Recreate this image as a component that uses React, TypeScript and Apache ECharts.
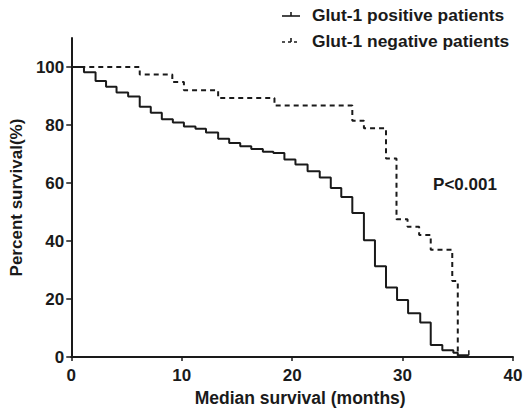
import React, { useEffect, useRef } from "react";
import * as echarts from "echarts";

const posMonths = [0, 1.15, 2.2, 3.15, 4.1, 5.15, 6.2, 7.2, 8.2, 9.2, 10.2, 11.25, 12.2, 13.3, 14.3, 15.3, 16.3, 17.35, 18.3, 19.3, 20.3, 21.4, 22.5, 23.5, 24.45, 25.45, 26.5, 27.5, 28.5, 29.5, 30.5, 31.6, 32.55, 33.6, 34.6, 35.0, 36.0];
const posSurvival = [100, 98.2, 95.2, 93.2, 91.2, 89.8, 86.3, 84.2, 82.0, 80.9, 79.5, 78.7, 77.4, 75.3, 73.8, 72.7, 71.7, 70.8, 70.4, 68.1, 66.4, 64.1, 61.9, 58.3, 55.2, 49.7, 40.3, 31.3, 24.0, 19.7, 15.1, 11.9, 4.2, 2.4, 1.5, 0.6, 0.6];

const negMonths = [0, 6.2, 9.15, 10.2, 13.3, 18.4, 25.45, 26.5, 28.5, 29.45, 30.45, 31.5, 32.55, 34.5, 35.0];
const negSurvival = [100, 97.4, 94.8, 92.0, 89.3, 86.7, 81.5, 78.9, 68.5, 47.5, 44.9, 42.1, 37.0, 26.2, 0];

const xTicks = [0, 10, 20, 30, 40];
const yTicks = [0, 20, 40, 60, 80, 100];

const seriesNames = ["Glut-1 positive patients", "Glut-1 negative patients"];
const pValueText = "P<0.001";

const FONT = "Liberation Sans, Arial, sans-serif";
const INK = "#1a1a1a";

export default function App() {
  const ref = useRef<HTMLDivElement>(null);
  useEffect(() => {
    if (!ref.current) return;
    const chart = echarts.init(ref.current, null, { renderer: "svg" });
    const posData = posMonths.map((m, i) => {
      if (i === posMonths.length - 1) {
        return {
          value: [m, posSurvival[i]],
          symbol: "rect",
          symbolSize: [1.5, 5],
          symbolOffset: [0, -2.5],
          itemStyle: { color: INK },
        };
      }
      return { value: [m, posSurvival[i]], symbol: "none" };
    });
    const negData = negMonths.map((m, i) => [m, negSurvival[i]]);
    const legendGraphics: any[] = [];
    seriesNames.forEach((name, i) => {
      const y = 16 + i * 26;
      legendGraphics.push({
        type: "line",
        shape: { x1: 282, y1: y, x2: 300, y2: y },
        style: { stroke: INK, lineWidth: 1.6, lineDash: i === 1 ? [3, 3] : undefined },
      });
      legendGraphics.push({
        type: "line",
        shape: { x1: 291, y1: y, x2: 291, y2: y - 4 },
        style: { stroke: INK, lineWidth: 1.6 },
      });
      legendGraphics.push({
        type: "text",
        x: 312,
        y: y - 1,
        style: {
          text: name,
          font: `bold 17.4px ${FONT}`,
          fill: INK,
          textVerticalAlign: "middle",
          textAlign: "left",
        },
      });
    });
    legendGraphics.push({
      type: "text",
      x: 465,
      y: 184,
      style: {
        text: pValueText,
        font: `bold 17px ${FONT}`,
        fill: INK,
        textAlign: "center",
        textVerticalAlign: "middle",
      },
    });
    chart.setOption({
      animation: false,
      backgroundColor: "#ffffff",
      grid: { left: 68, right: 17, top: 38, bottom: 51, containLabel: false },
      xAxis: {
        type: "value",
        min: 0,
        max: 40,
        interval: 10,
        name: "Median survival (months)",
        nameLocation: "middle",
        nameGap: 31,
        nameTextStyle: { fontFamily: FONT, fontWeight: "bold", fontSize: 17.5, color: INK, padding: [0, 0, 0, 16] },
        axisLine: { show: true, lineStyle: { color: INK, width: 2 } },
        axisTick: { show: true, length: 4, lineStyle: { color: INK, width: 1.5 }, customValues: xTicks },
        axisLabel: { fontFamily: FONT, fontWeight: "bold", fontSize: 17, color: INK, margin: 10, customValues: xTicks },
        splitLine: { show: false },
      },
      yAxis: {
        type: "value",
        min: 0,
        max: 110,
        name: "Percent survival(%)",
        nameLocation: "middle",
        nameGap: 43,
        nameTextStyle: { fontFamily: FONT, fontWeight: "bold", fontSize: 17, color: INK },
        axisLine: { show: true, lineStyle: { color: INK, width: 2 } },
        axisTick: { show: true, length: 5, lineStyle: { color: INK, width: 1.5 }, customValues: yTicks },
        axisLabel: { fontFamily: FONT, fontWeight: "bold", fontSize: 17, color: INK, margin: 7, customValues: yTicks },
        splitLine: { show: false },
      },
      series: [
        {
          name: seriesNames[0],
          type: "line",
          step: "end",
          data: posData,
          symbol: "none",
          showSymbol: true,
          lineStyle: { color: INK, width: 2 },
          itemStyle: { color: INK },
          z: 3,
        },
        {
          name: seriesNames[1],
          type: "line",
          step: "end",
          data: negData,
          symbol: "none",
          lineStyle: { color: INK, width: 2, type: [5, 4] },
          itemStyle: { color: INK },
          z: 2,
        },
      ],
      graphic: legendGraphics,
    });
    return () => chart.dispose();
  }, []);
  return (
    <div
      ref={ref}
      style={{ position: "fixed", left: 0, top: 0, width: 530, height: 412, background: "#fff" }}
    />
  );
}
